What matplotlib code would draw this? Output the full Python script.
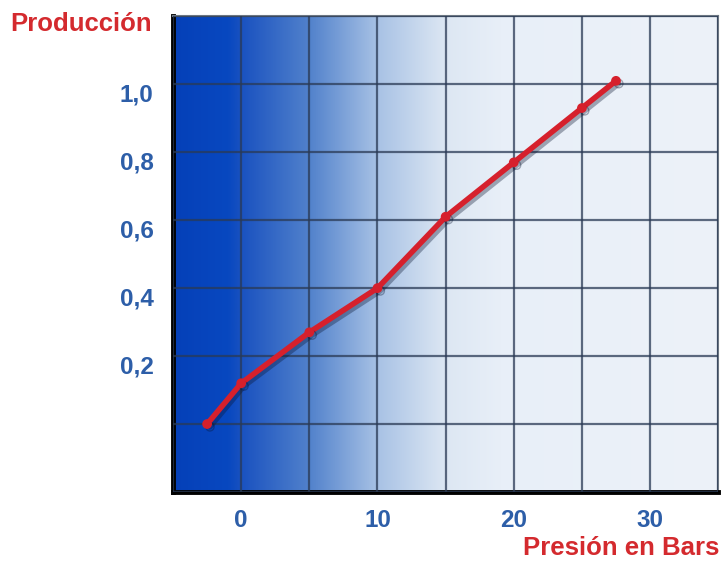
import numpy as np
import matplotlib
matplotlib.use("Agg")
import matplotlib.pyplot as plt
import matplotlib.patheffects as pe
from matplotlib.colors import LinearSegmentedColormap
from matplotlib.ticker import MultipleLocator
from matplotlib.transforms import ScaledTranslation

# presión (bars) vs producción
presion = [-2.5, 0, 5, 10, 15, 20, 25, 27.5]
produccion = [0.0, 0.12, 0.27, 0.40, 0.61, 0.77, 0.93, 1.01]

x_ticks = [0, 10, 20, 30]
x_labels = ["0", "10", "20", "30"]
y_ticks = [0.2, 0.4, 0.6, 0.8, 1.0]
y_labels = ["0,2", "0,4", "0,6", "0,8", "1,0"]

plt.rcParams['font.family'] = ['Liberation Sans', 'DejaVu Sans']

fig = plt.figure(figsize=(7.24, 5.61), dpi=100)
ax = fig.add_axes([0.239, 0.123, 0.753, 0.848])
ax.set_xlim(-5, 35)
ax.set_ylim(-0.2, 1.2)

# horizontal blue fade behind the grid
fade = LinearSegmentedColormap.from_list("fade", [
    (0.0, "#0540b8"),
    (0.10, "#0848c0"),
    (0.125, "#1a52c0"),
    (0.25, "#5282cc"),
    (0.375, "#a8c2e5"),
    (0.50, "#dde7f3"),
    (0.60, "#e8eff8"),
    (1.0, "#edf2f9"),
])
grad = np.linspace(0, 1, 512).reshape(1, -1)
ax.imshow(grad, cmap=fade, extent=(-5, 35, -0.2, 1.2), aspect='auto',
          interpolation='bicubic', zorder=0)

# labelled ticks are major, the full grid uses minor ticks as well
ax.set_xticks(x_ticks)
ax.set_xticklabels(x_labels)
ax.set_yticks(y_ticks)
ax.set_yticklabels(y_labels)
ax.xaxis.set_minor_locator(MultipleLocator(5))
ax.yaxis.set_minor_locator(MultipleLocator(0.2))
ax.grid(True, which='both', color="#2a3a55", alpha=0.75, lw=1.6, zorder=1)
ax.set_axisbelow(False)
ax.tick_params(which='both', length=0)
ax.tick_params(axis='y', which='major', colors="#2d5ea8", labelsize=17.5, pad=14)
ax.tick_params(axis='x', which='major', colors="#2d5ea8", labelsize=17.5, pad=12)
for lab in ax.get_xticklabels() + ax.get_yticklabels():
    lab.set_fontweight('bold')
for lab in ax.get_yticklabels():
    lab.set_transform(lab.get_transform() + ScaledTranslation(0, -6 / 72, fig.dpi_scale_trans))

line, = ax.plot(presion, produccion, color="#d6202c", lw=4, marker='o', ms=6,
                solid_capstyle='round', zorder=3)
line.set_path_effects([pe.SimpleLineShadow(offset=(2, -2), shadow_color='#0a1530', alpha=0.35),
                       pe.Normal()])

for side in ('left', 'bottom'):
    ax.spines[side].set_color('black')
    ax.spines[side].set_linewidth(3.5)
for side in ('top', 'right'):
    ax.spines[side].set_color('#6c7682')
    ax.spines[side].set_linewidth(1.5)

fig.text(0.112, 0.958, "Producción", color="#d42a2e", fontsize=18.5, fontweight='bold',
         ha='center', va='center')
fig.text(0.993, 0.024, "Presión en Bars", color="#d42a2e", fontsize=18.5, fontweight='bold',
         ha='right', va='center')

fig.savefig("out.png", dpi=100)
